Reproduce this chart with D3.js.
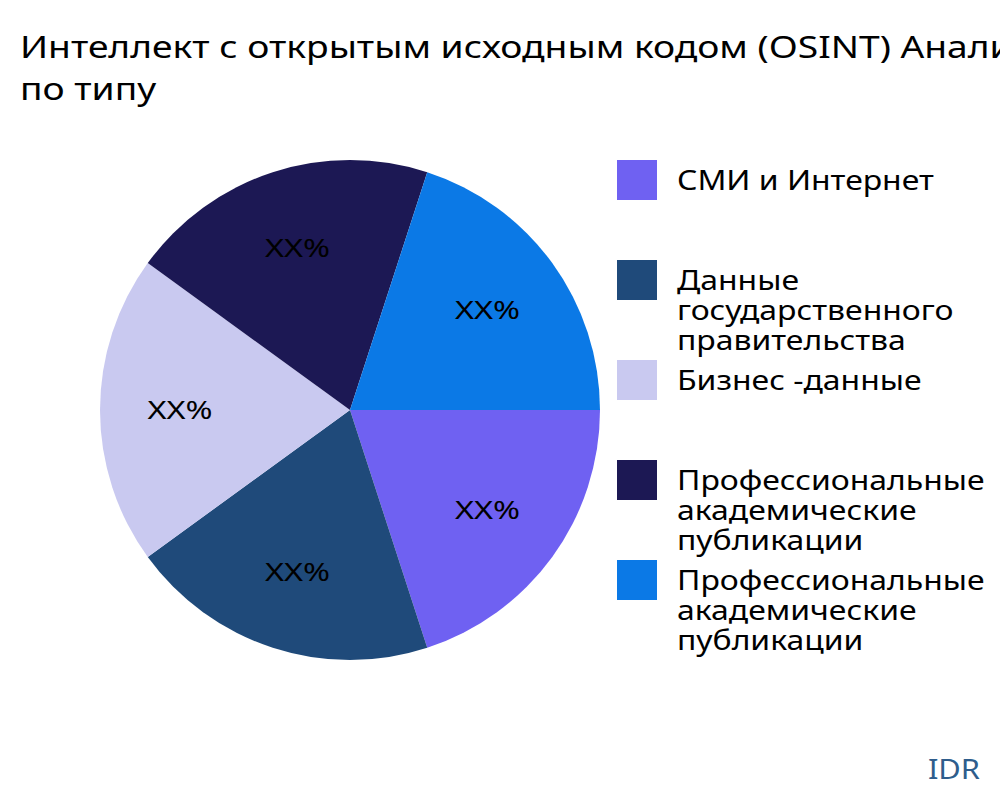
<!DOCTYPE html>
<html><head><meta charset="utf-8">
<script src="https://cdn.jsdelivr.net/npm/d3@7"></script>
<style>body{margin:0;background:#fff}</style></head>
<body><svg id="c" width="1000" height="800"></svg>
<script>
const categories = ["СМИ и Интернет","Данные государственного правительства","Бизнес -данные","Профессиональные академические публикации","Профессиональные академические публикации"];
const legendLines = [["СМИ и Интернет"],["Данные","государственного","правительства"],["Бизнес -данные"],["Профессиональные","академические","публикации"],["Профессиональные","академические","публикации"]];
const values = [20,20,20,20,20];
const labels = ["XX%","XX%","XX%","XX%","XX%"];
const colors = ["#6F61F2","#1F4A7A","#C9C9F0","#1C1854","#0B79E6"];

const svg = d3.select("#c");
const font = "'Noto Sans', sans-serif";
const tg = svg.append("g").attr("transform","translate(20,0) scale(1.2,1)");
tg.append("text").attr("x",0).attr("y",58).attr("font-family",font).attr("font-size",31).attr("fill","#000")
  .text("Интеллект с открытым исходным кодом (OSINT) Анализ рынка");
tg.append("text").attr("x",0).attr("y",100).attr("font-family",font).attr("font-size",31).attr("fill","#000").text("по типу");

const pie = d3.pie().sort(null).startAngle(Math.PI/2).endAngle(Math.PI/2+2*Math.PI);
const arcs = pie(values);
const R = 250;
const arc = d3.arc().innerRadius(0).outerRadius(R);
const lab = d3.arc().innerRadius(170).outerRadius(170);
const g = svg.append("g").attr("transform","translate(350,410)");
g.selectAll("path").data(arcs).join("path").attr("d",arc).attr("fill",(d,i)=>colors[i]);
g.selectAll("text").data(arcs).join("text").attr("transform",d=>`translate(${lab.centroid(d)}) scale(1.25,1)`)
  .attr("text-anchor","middle").attr("dy","0.35em").attr("font-family",font).attr("font-size",26).attr("fill","#000")
  .text((d,i)=>labels[i]);

const lg = svg.append("g");
categories.forEach((c,i)=>{
  const y = 160 + i*100;
  lg.append("rect").attr("x",617).attr("y",y).attr("width",40).attr("height",40).attr("fill",colors[i]);
  const t = lg.append("text").attr("transform",`translate(677,${y+30}) scale(1.14,1)`).attr("font-family",font).attr("font-size",28).attr("fill","#000");
  legendLines[i].forEach((l,j)=>t.append("tspan").attr("x",0).attr("dy",j?30:0).text(l));
});
svg.append("text").attr("transform","translate(980,779) scale(1.1,1)").attr("text-anchor","end").attr("font-family",font).attr("font-size",28).attr("fill","#2E5D8C").text("IDR");
</script></body></html>
